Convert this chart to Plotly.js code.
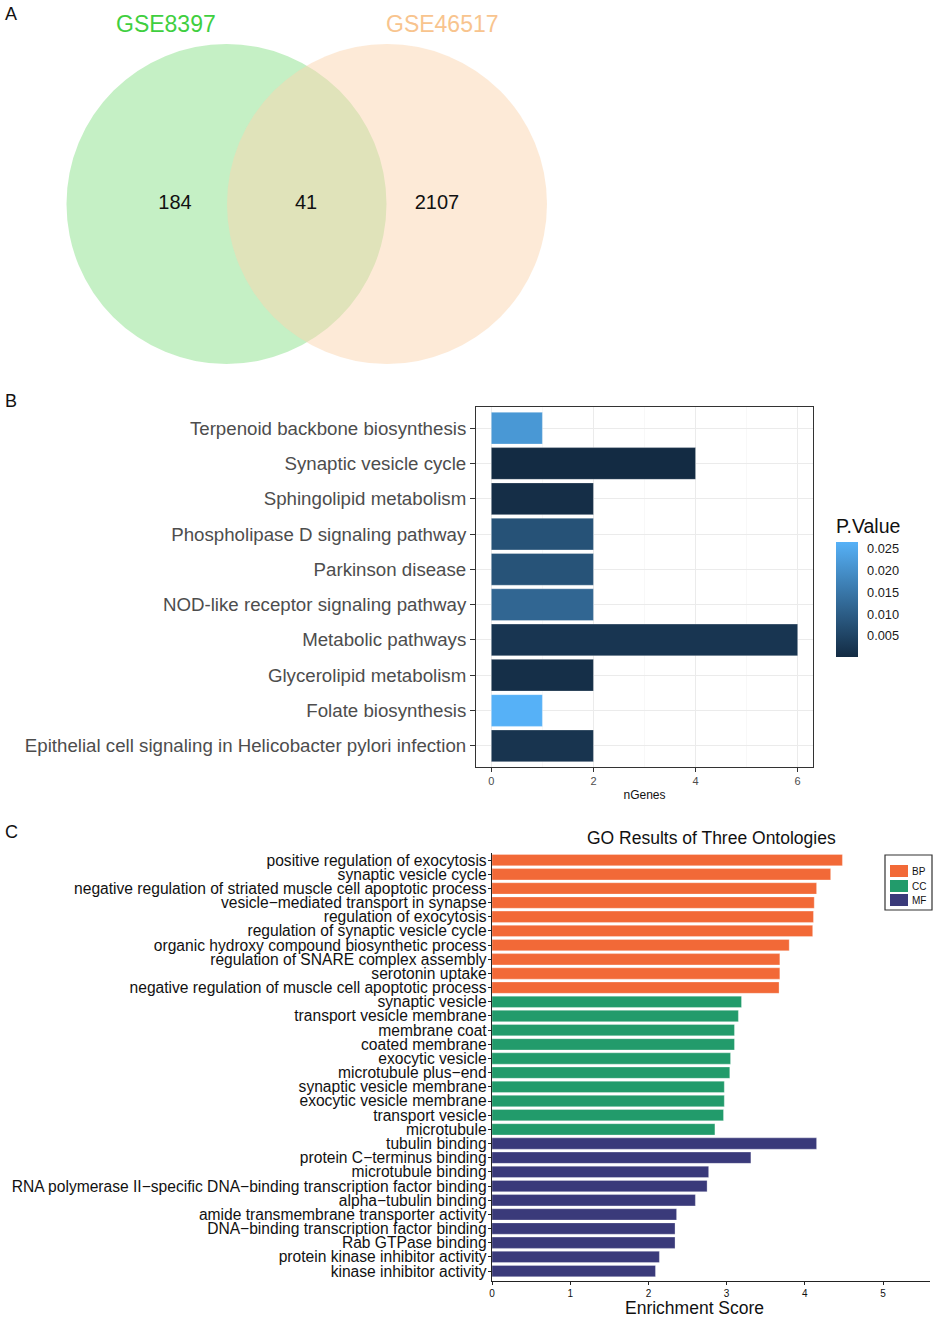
<!DOCTYPE html>
<html>
<head>
<meta charset="utf-8">
<script src="https://cdn.plot.ly/plotly-3.0.1.min.js"></script>
<style>html,body{margin:0;padding:0;background:#fff;}#chart{width:934px;height:1317px;}</style>
</head>
<body>
<div id="chart"></div>
<script>
// ---------- DATA ----------
// Panel A: Venn diagram
const vennSets = ['GSE8397', 'GSE46517'];
const vennCounts = [184, 41, 2107]; // left only, overlap, right only

// Panel B: KEGG pathways
const keggPathways = [
  'Terpenoid backbone biosynthesis',
  'Synaptic vesicle cycle',
  'Sphingolipid metabolism',
  'Phospholipase D signaling pathway',
  'Parkinson disease',
  'NOD-like receptor signaling pathway',
  'Metabolic pathways',
  'Glycerolipid metabolism',
  'Folate biosynthesis',
  'Epithelial cell signaling in Helicobacter pylori infection'
];
const keggGenes = [1, 4, 2, 2, 2, 2, 6, 2, 1, 2];
const keggPValues = [0.0215, 0.0002, 0.0008, 0.0078, 0.0080, 0.0118, 0.0022, 0.0010, 0.0265, 0.0020];
const pvalTicks = [0.005, 0.010, 0.015, 0.020, 0.025];

// Panel C: GO terms
const goBPTerms = [
  'positive regulation of exocytosis',
  'synaptic vesicle cycle',
  'negative regulation of striated muscle cell apoptotic process',
  'vesicle\u2212mediated transport in synapse',
  'regulation of exocytosis',
  'regulation of synaptic vesicle cycle',
  'organic hydroxy compound biosynthetic process',
  'regulation of SNARE complex assembly',
  'serotonin uptake',
  'negative regulation of muscle cell apoptotic process'
];
const goBPScores = [4.48, 4.33, 4.15, 4.12, 4.11, 4.10, 3.80, 3.68, 3.68, 3.67];
const goCCTerms = [
  'synaptic vesicle',
  'transport vesicle membrane',
  'membrane coat',
  'coated membrane',
  'exocytic vesicle',
  'microtubule plus\u2212end',
  'synaptic vesicle membrane',
  'exocytic vesicle membrane',
  'transport vesicle',
  'microtubule'
];
const goCCScores = [3.19, 3.15, 3.10, 3.10, 3.05, 3.04, 2.97, 2.97, 2.96, 2.85];
const goMFTerms = [
  'tubulin binding',
  'protein C\u2212terminus binding',
  'microtubule binding',
  'RNA polymerase II\u2212specific DNA\u2212binding transcription factor binding',
  'alpha\u2212tubulin binding',
  'amide transmembrane transporter activity',
  'DNA\u2212binding transcription factor binding',
  'Rab GTPase binding',
  'protein kinase inhibitor activity',
  'kinase inhibitor activity'
];
const goMFScores = [4.15, 3.31, 2.77, 2.75, 2.60, 2.36, 2.34, 2.34, 2.14, 2.09];
const goOntologies = ['BP', 'CC', 'MF'];
const goTicks = [0, 1, 2, 3, 4, 5];

// ---------- LAYOUT CONSTANTS (pixels) ----------
const W = 934, H = 1317;
const FONT = 'Liberation Sans, Arial, sans-serif';
const pxX = p => p / W;
const pxY = p => 1 - p / H;

// Venn geometry (panel A in pixel units)
const vennR = 160;
const vennCY = 204;
const vennCX = [226.5, 387];
const vennLabelX = [175, 306, 437];
const vennTitleX = [166, 442];
const vennFill = ['rgba(140,225,140,0.5)', 'rgba(251,213,175,0.5)'];
const vennTitleColor = ['#3fcf3f', '#f8c48e'];

const goColors = ['#f26937', '#229b6b', '#3a3a7a'];

const allGoTerms = goBPTerms.concat(goCCTerms, goMFTerms);

const traces = [];

// Panel A: count labels
traces.push({
  type: 'scatter', mode: 'text', xaxis: 'x', yaxis: 'y',
  x: vennLabelX, y: vennLabelX.map(() => vennCY),
  text: vennCounts.map(String),
  textfont: {family: FONT, size: 20, color: '#111'},
  hoverinfo: 'skip', showlegend: false
});

// Panel B: KEGG bars
traces.push({
  type: 'bar', orientation: 'h', xaxis: 'x2', yaxis: 'y2',
  x: keggGenes, y: keggPathways, width: 0.9,
  marker: {
    color: keggPValues,
    colorscale: [[0, '#132B43'], [1, '#56B1F7']],
    showscale: true,
    line: {color: 'rgba(255,255,255,0.6)', width: 0.5},
    colorbar: {
      title: {text: 'P.Value', side: 'top', font: {family: FONT, size: 19.5, color: '#111'}},
      x: pxX(836), xanchor: 'left', xref: 'paper',
      y: pxY(657), yanchor: 'bottom', yref: 'paper',
      len: 142 / H, lenmode: 'fraction',
      thickness: 22, thicknessmode: 'pixels',
      outlinewidth: 0,
      tickvals: pvalTicks, ticktext: pvalTicks.map(v => v.toFixed(3)),
      ticks: 'outside', ticklen: 7, tickcolor: 'rgba(0,0,0,0)',
      tickfont: {family: FONT, size: 12.8, color: '#1a1a1a'},
      xpad: 0, ypad: 0
    }
  },
  hoverinfo: 'x+y', showlegend: false
});

// Panel C: GO bars
const goGroups = [
  {terms: goBPTerms, scores: goBPScores},
  {terms: goCCTerms, scores: goCCScores},
  {terms: goMFTerms, scores: goMFScores}
];
goGroups.forEach((g, i) => {
  traces.push({
    type: 'bar', orientation: 'h', xaxis: 'x3', yaxis: 'y3',
    name: goOntologies[i], x: g.scores, y: g.terms, width: 0.8,
    marker: {color: goColors[i], line: {color: 'rgba(255,255,255,0.5)', width: 0.6}},
    showlegend: false
  });
});

// Manual legend for panel C (box + swatches + labels)
const legBox = {x0: 885, x1: 932, y0: 855, y1: 910};
const legRowY = [871, 886, 900];
const legendShapes = [{
  type: 'rect', xref: 'paper', yref: 'paper',
  x0: pxX(legBox.x0), x1: pxX(legBox.x1), y0: pxY(legBox.y1), y1: pxY(legBox.y0),
  line: {color: '#333', width: 1.2}, fillcolor: '#fff'
}].concat(goOntologies.map((o, i) => ({
  type: 'rect', xref: 'paper', yref: 'paper',
  x0: pxX(890), x1: pxX(908), y0: pxY(legRowY[i] + 6), y1: pxY(legRowY[i] - 6),
  line: {width: 0}, fillcolor: goColors[i]
})));
const legendAnn = goOntologies.map((o, i) => ({
  text: o, x: pxX(910), y: pxY(legRowY[i]), xref: 'paper', yref: 'paper',
  xanchor: 'left', yanchor: 'middle', showarrow: false,
  font: {family: FONT, size: 10, color: '#111'}
}));

const layout = {
  width: W, height: H,
  margin: {l: 0, r: 0, t: 0, b: 0, autoexpand: false},
  paper_bgcolor: '#fff', plot_bgcolor: 'rgba(0,0,0,0)',
  font: {family: FONT, color: '#111'},
  showlegend: false,
  bargap: 0,
  // Panel A
  xaxis: {domain: [0, 1], range: [0, W], visible: false, fixedrange: true},
  yaxis: {domain: [pxY(380), 1], range: [380, 0], visible: false, fixedrange: true},
  // Panel B
  xaxis2: {
    domain: [pxX(476), pxX(813)], anchor: 'y2',
    range: [-0.3, 6.3], tickvals: [0, 2, 4, 6],
    showgrid: true, gridcolor: '#ebebeb', gridwidth: 1,
    minor: {tickvals: [1, 3, 5], showgrid: true, gridcolor: '#f3f3f3', gridwidth: 0.6},
    zeroline: false,
    showline: true, mirror: true, linecolor: '#333', linewidth: 1,
    ticks: 'outside', ticklen: 4, tickcolor: '#333',
    tickfont: {family: FONT, size: 11, color: '#4d4d4d'},
    title: {text: 'nGenes', font: {family: FONT, size: 12, color: '#111'}, standoff: 4}
  },
  yaxis2: {
    domain: [pxY(767), pxY(407)], anchor: 'x2',
    type: 'category', categoryorder: 'array', categoryarray: keggPathways,
    tickmode: 'array', tickvals: keggPathways,
    range: [9.6, -0.6],
    showgrid: true, gridcolor: '#ebebeb', gridwidth: 1,
    showline: true, mirror: true, linecolor: '#333', linewidth: 1,
    ticks: 'outside', ticklen: 5, tickcolor: '#333',
    tickfont: {family: FONT, size: 18.7, color: '#4d4d4d'}
  },
  // Panel C
  xaxis3: {
    domain: [pxX(492), pxX(930)], anchor: 'y3',
    range: [0, 5.6], tickvals: goTicks,
    showgrid: false, zeroline: false,
    showline: true, linecolor: '#222', linewidth: 1.2,
    ticks: 'outside', ticklen: 3, tickcolor: '#222',
    tickfont: {family: FONT, size: 10, color: '#111'}
  },
  yaxis3: {
    domain: [pxY(1281), pxY(853)], anchor: 'x3',
    type: 'category', categoryorder: 'array', categoryarray: allGoTerms,
    tickmode: 'array', tickvals: allGoTerms,
    range: [29.7, -0.5],
    showgrid: false,
    showline: true, linecolor: '#222', linewidth: 1.2,
    ticks: 'outside', ticklen: 3, tickcolor: '#222',
    ticklabelstandoff: -2,
    tickfont: {family: FONT, size: 15.6, color: '#111'}
  },
  shapes: vennCX.map((cx, i) => ({
    type: 'circle', xref: 'x', yref: 'y',
    x0: cx - vennR, x1: cx + vennR, y0: vennCY - vennR, y1: vennCY + vennR,
    fillcolor: vennFill[i], line: {width: 0}, layer: 'below'
  })).concat(legendShapes),
  annotations: [
    {text: 'A', x: pxX(3), y: pxY(2), xref: 'paper', yref: 'paper', xanchor: 'left', yanchor: 'top', showarrow: false, font: {family: FONT, size: 18, color: '#111'}},
    {text: 'B', x: pxX(3), y: pxY(389), xref: 'paper', yref: 'paper', xanchor: 'left', yanchor: 'top', showarrow: false, font: {family: FONT, size: 18, color: '#111'}},
    {text: 'C', x: pxX(3), y: pxY(820), xref: 'paper', yref: 'paper', xanchor: 'left', yanchor: 'top', showarrow: false, font: {family: FONT, size: 18, color: '#111'}},
    {text: 'GO Results of Three Ontologies', x: pxX(711), y: pxY(838), xref: 'paper', yref: 'paper', xanchor: 'center', yanchor: 'middle', showarrow: false, font: {family: FONT, size: 17.5, color: '#111'}},
    {text: 'Enrichment Score', x: pxX(694), y: pxY(1308), xref: 'paper', yref: 'paper', xanchor: 'center', yanchor: 'middle', showarrow: false, font: {family: FONT, size: 17.5, color: '#111'}}
  ].concat(vennSets.map((s, i) => ({
    text: s, x: vennTitleX[i], y: 24, xref: 'x', yref: 'y', xanchor: 'center', yanchor: 'middle',
    showarrow: false, font: {family: FONT, size: 23, color: vennTitleColor[i]}
  }))).concat(legendAnn)
};

Plotly.newPlot('chart', traces, layout, {staticPlot: true, displayModeBar: false});
</script>
</body>
</html>
